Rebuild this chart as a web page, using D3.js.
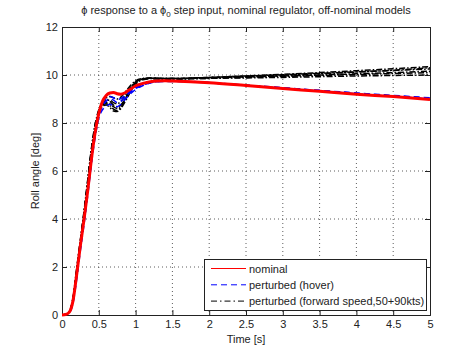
<!DOCTYPE html>
<html>
<head>
<meta charset="utf-8">
<script src="https://cdn.jsdelivr.net/npm/d3@7"></script>
<style>
  body { margin: 0; background: #fff; }
  text { font-family: "Liberation Sans", Arial, sans-serif; }
</style>
</head>
<body>
<svg class="main"></svg>
<script>
const time = [0,0.05,0.1,0.15,0.2,0.25,0.3,0.35,0.4,0.45,0.5,0.55,0.6,0.65,0.7,0.75,0.8,0.85,0.9,0.95,1.0,1.1,1.2,1.3,1.4,1.5,1.75,2,2.5,3,3.5,4,4.5,5];

const nominal = [0,0.02,0.12,0.6,1.7,2.9,4.0,5.2,6.5,7.6,8.4,8.9,9.15,9.25,9.27,9.22,9.2,9.25,9.35,9.45,9.55,9.65,9.72,9.75,9.76,9.75,9.72,9.68,9.56,9.44,9.32,9.2,9.1,8.98];

const hover1 = [0,0.02,0.11,0.55,1.6,2.8,3.9,5.1,6.4,7.5,8.3,8.7,8.9,9.0,8.95,8.85,8.9,9.05,9.2,9.32,9.43,9.58,9.68,9.73,9.74,9.74,9.72,9.68,9.57,9.46,9.35,9.24,9.13,9.03];
const hover2 = [0,0.02,0.1,0.5,1.5,2.7,3.8,5.0,6.3,7.4,8.2,8.55,8.7,8.78,8.72,8.68,8.78,8.95,9.12,9.27,9.4,9.56,9.67,9.72,9.73,9.73,9.71,9.67,9.56,9.45,9.33,9.22,9.11,9.0];
const hover3 = [0,0.02,0.12,0.6,1.7,2.9,4.0,5.2,6.5,7.6,8.4,8.8,9.02,9.1,9.05,8.98,9.02,9.12,9.25,9.36,9.47,9.61,9.7,9.74,9.75,9.75,9.73,9.69,9.58,9.47,9.36,9.25,9.15,9.05];

const fwd1 = [0,0.02,0.14,0.7,1.9,3.1,4.3,5.6,6.9,7.9,8.5,8.75,8.8,8.72,8.58,8.52,8.65,8.92,9.2,9.45,9.65,9.82,9.86,9.85,9.84,9.84,9.86,9.89,9.94,9.99,10.05,10.12,10.2,10.3];
const fwd2 = [0,0.02,0.13,0.65,1.8,3.0,4.2,5.5,6.8,7.8,8.45,8.8,8.95,8.95,8.85,8.8,8.9,9.1,9.35,9.55,9.72,9.84,9.86,9.85,9.85,9.85,9.86,9.88,9.92,9.96,10.0,10.05,10.1,10.16];
const fwd3 = [0,0.02,0.13,0.68,1.85,3.05,4.25,5.55,6.85,7.85,8.5,8.85,9.05,9.1,9.05,9.0,9.08,9.25,9.45,9.62,9.76,9.86,9.88,9.87,9.86,9.86,9.87,9.9,9.96,10.03,10.1,10.18,10.26,10.35];
const fwd4 = [0,0.02,0.12,0.62,1.75,2.95,4.15,5.45,6.75,7.75,8.4,8.7,8.75,8.65,8.5,8.48,8.6,8.85,9.12,9.4,9.62,9.8,9.85,9.84,9.83,9.83,9.84,9.86,9.9,9.94,9.98,10.02,10.06,10.1];
const fwd5 = [0,0.02,0.14,0.72,1.95,3.15,4.35,5.65,6.95,7.95,8.55,8.85,8.98,8.9,8.75,8.68,8.75,8.98,9.25,9.5,9.7,9.83,9.87,9.86,9.85,9.85,9.87,9.9,9.96,10.01,10.07,10.13,10.19,10.25];
const fwd6 = [0,0.02,0.13,0.66,1.82,3.02,4.22,5.52,6.82,7.82,8.48,8.75,8.85,8.8,8.68,8.6,8.72,8.95,9.22,9.48,9.68,9.83,9.86,9.85,9.84,9.84,9.85,9.86,9.88,9.9,9.93,9.96,9.98,10.0];

const hoverRuns = [hover1, hover2, hover3];
const fwdRuns = [fwd1, fwd2, fwd3, fwd4, fwd5, fwd6];

const xTicks = [0,0.5,1,1.5,2,2.5,3,3.5,4,4.5,5];
const yTicks = [0,2,4,6,8,10,12];
const legendLabels = ["nominal", "perturbed (hover)", "perturbed (forward speed,50+90kts)"];

const width = 474;
const height = 354;
const pLeft = 62, pRight = 430, pTop = 27, pBottom = 315;

const svg = d3.select("svg.main")
    .attr("width", width)
    .attr("height", height);

const x = d3.scaleLinear().domain([0, 5]).range([pLeft, pRight]);
const y = d3.scaleLinear().domain([0, 12]).range([pBottom, pTop]);

// grid
svg.append("g")
    .selectAll("line")
    .data(xTicks.slice(1, -1))
    .join("line")
    .attr("x1", d => x(d)).attr("x2", d => x(d))
    .attr("y1", pTop).attr("y2", pBottom)
    .style("stroke", "#333")
    .style("stroke-width", 0.8)
    .style("stroke-dasharray", "1,3");
svg.append("g")
    .selectAll("line")
    .data(yTicks.slice(1, -1))
    .join("line")
    .attr("x1", pLeft).attr("x2", pRight)
    .attr("y1", d => y(d)).attr("y2", d => y(d))
    .style("stroke", "#333")
    .style("stroke-width", 0.8)
    .style("stroke-dasharray", "1,3");

// axes, ticks inward on all four sides
const axB = svg.append("g").attr("transform", `translate(0,${pBottom})`)
    .call(d3.axisBottom(x).tickValues(xTicks).tickSize(-5).tickPadding(5).tickFormat(d3.format("")));
const axT = svg.append("g").attr("transform", `translate(0,${pTop})`)
    .call(d3.axisTop(x).tickValues(xTicks).tickSize(-5).tickFormat(""));
const axL = svg.append("g").attr("transform", `translate(${pLeft},0)`)
    .call(d3.axisLeft(y).tickValues(yTicks).tickSize(-5).tickPadding(4));
const axR = svg.append("g").attr("transform", `translate(${pRight},0)`)
    .call(d3.axisRight(y).tickValues(yTicks).tickSize(-5).tickFormat(""));
[axB, axT, axL, axR].forEach(a => {
    a.select(".domain").style("stroke", "#222");
    a.selectAll(".tick line").style("stroke", "#222");
    a.selectAll("text").style("font-size", "11px").style("fill", "#222")
        .style("font-family", "'Liberation Sans', Arial, sans-serif");
});

// curves
const line = d3.line()
    .x((d, i) => x(time[i]))
    .y(d => y(d))
    .curve(d3.curveMonotoneX);

svg.append("g")
    .selectAll("path")
    .data(fwdRuns)
    .join("path")
    .attr("d", line)
    .style("fill", "none")
    .style("stroke", "#000")
    .style("stroke-width", 1.5)
    .style("stroke-dasharray", "6,2,1.5,2");

svg.append("g")
    .selectAll("path")
    .data(hoverRuns)
    .join("path")
    .attr("d", line)
    .style("fill", "none")
    .style("stroke", "#0000ff")
    .style("stroke-width", 1.5)
    .style("stroke-dasharray", "6,4");

svg.append("path")
    .datum(nominal)
    .attr("d", line)
    .style("fill", "none")
    .style("stroke", "#ff0000")
    .style("stroke-width", 3);

// legend
const lg = svg.append("g");
lg.append("rect")
    .attr("x", 204.5).attr("y", 259.5)
    .attr("width", 222).attr("height", 51)
    .style("fill", "#fff")
    .style("stroke", "#222")
    .style("stroke-width", 1);
const lstyles = [
    {c: "#ff0000", dash: null},
    {c: "#0000ff", dash: "6,4"},
    {c: "#000", dash: "6,3,1.5,3"}
];
legendLabels.forEach((t, i) => {
    const ly = 268.5 + i * 16.3;
    lg.append("line")
        .attr("x1", 211).attr("x2", 246)
        .attr("y1", ly).attr("y2", ly)
        .style("stroke", lstyles[i].c)
        .style("stroke-width", 1)
        .style("stroke-dasharray", lstyles[i].dash);
    lg.append("text")
        .attr("x", 249).attr("y", ly + 4)
        .style("font-size", "11px")
        .style("fill", "#222")
        .text(t);
});

// title and labels
const title = svg.append("text")
    .attr("x", (pLeft + pRight) / 2).attr("y", 14)
    .attr("text-anchor", "middle")
    .style("font-size", "11px")
    .style("fill", "#222");
title.append("tspan").text("\u03d5 response to a \u03d5");
title.append("tspan").attr("dy", 3).style("font-size", "8px").text("0");
title.append("tspan").attr("dy", -3).text(" step input, nominal regulator, off-nominal models");

svg.append("text")
    .attr("x", (pLeft + pRight) / 2).attr("y", 343)
    .attr("text-anchor", "middle")
    .style("font-size", "11px")
    .style("fill", "#222")
    .text("Time [s]");

svg.append("text")
    .attr("transform", `translate(39,${(pTop + pBottom) / 2}) rotate(-90)`)
    .attr("text-anchor", "middle")
    .style("font-size", "11px")
    .style("fill", "#222")
    .text("Roll angle [deg]");
</script>
</body>
</html>
